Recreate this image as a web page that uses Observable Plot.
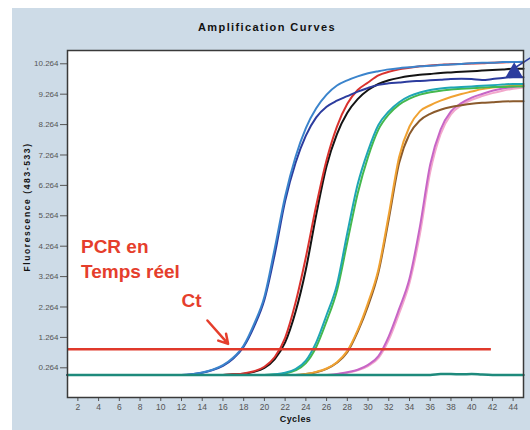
<!DOCTYPE html>
<html>
<head>
<meta charset="utf-8">
<script src="https://cdn.jsdelivr.net/npm/d3@7"></script>
<script src="https://cdn.jsdelivr.net/npm/@observablehq/plot@0.6"></script>
<style>
  html, body { margin: 0; padding: 0; background: #ffffff; width: 530px; height: 430px; overflow: hidden; }
  #panel { position: absolute; left: 12px; top: 8px; width: 518px; height: 422px; background: #cddbe7; }
  #title { position: absolute; left: -12px; width: 534px; top: 13px; text-align: center;
           font: bold 11px "Liberation Sans", Arial, sans-serif; letter-spacing: 1.4px; color: #111; }
  #chart { position: absolute; left: 0; top: 34px; }
</style>
</head>
<body>
<div id="panel">
  <div id="title">Amplification Curves</div>
  <div id="chart"></div>
</div>
<script>
// ---- data ----
const cycles = [1,2,3,4,5,6,7,8,9,10,11,12,13,14,15,16,17,18,19,20,21,22,23,24,25,26,27,28,29,30,31,32,33,34,35,36,37,38,39,40,41,42,43,44,45];

const lightBlue = [0.03,0.03,0.03,0.03,0.03,0.03,0.03,0.03,0.03,0.03,0.03,0.03,0.05,0.11,0.2,0.35,0.6,1.0,1.7,2.6,4.2,5.9,7.2,8.15,8.8,9.25,9.55,9.72,9.85,9.95,10.02,10.08,10.12,10.15,10.18,10.2,10.22,10.24,10.26,10.28,10.3,10.3,10.32,10.32,10.33];
const navy = [0.03,0.03,0.03,0.03,0.03,0.03,0.03,0.03,0.03,0.03,0.03,0.03,0.05,0.1,0.19,0.33,0.57,0.96,1.62,2.5,4.0,5.75,7.0,7.9,8.5,8.85,9.05,9.2,9.35,9.47,9.57,9.62,9.65,9.68,9.7,9.72,9.74,9.76,9.77,9.76,9.73,9.76,9.8,9.82,9.82];
const red = [0.03,0.03,0.03,0.03,0.03,0.03,0.03,0.03,0.03,0.03,0.03,0.03,0.03,0.03,0.03,0.03,0.05,0.08,0.15,0.3,0.62,1.25,2.4,3.9,5.6,7.1,8.2,8.95,9.4,9.65,9.88,10.0,10.08,10.13,10.18,10.21,10.23,10.25,10.26,10.27,10.28,10.3,10.31,10.32,10.32];
const black = [0.03,0.03,0.03,0.03,0.03,0.03,0.03,0.03,0.03,0.03,0.03,0.03,0.03,0.03,0.03,0.03,0.05,0.07,0.13,0.26,0.55,1.1,2.1,3.5,5.3,6.9,7.95,8.65,9.1,9.4,9.6,9.72,9.8,9.86,9.9,9.93,9.96,9.98,10.0,10.02,10.04,10.06,10.08,10.1,10.1];
const teal = [0.03,0.03,0.03,0.03,0.03,0.03,0.03,0.03,0.03,0.03,0.03,0.03,0.03,0.03,0.03,0.03,0.03,0.03,0.03,0.03,0.05,0.1,0.22,0.5,1.1,2.0,3.0,4.7,6.3,7.4,8.25,8.7,9.0,9.2,9.32,9.4,9.45,9.48,9.5,9.52,9.54,9.56,9.58,9.6,9.6];
const green = [0.03,0.03,0.03,0.03,0.03,0.03,0.03,0.03,0.03,0.03,0.03,0.03,0.03,0.03,0.03,0.03,0.03,0.03,0.03,0.03,0.04,0.08,0.18,0.42,0.95,1.8,2.8,4.4,6.0,7.2,8.1,8.6,8.92,9.12,9.25,9.33,9.38,9.42,9.44,9.46,9.48,9.5,9.5,9.52,9.52];
const orange = [0.03,0.03,0.03,0.03,0.03,0.03,0.03,0.03,0.03,0.03,0.03,0.03,0.03,0.03,0.03,0.03,0.03,0.03,0.03,0.03,0.03,0.03,0.03,0.06,0.13,0.24,0.45,0.82,1.5,2.4,3.5,5.3,7.2,8.2,8.7,8.9,9.05,9.17,9.27,9.35,9.43,9.48,9.52,9.54,9.55];
const brown = [0.03,0.03,0.03,0.03,0.03,0.03,0.03,0.03,0.03,0.03,0.03,0.03,0.03,0.03,0.03,0.03,0.03,0.03,0.03,0.03,0.03,0.03,0.03,0.06,0.12,0.23,0.43,0.78,1.45,2.3,3.4,5.15,7.0,7.95,8.4,8.62,8.75,8.84,8.9,8.95,8.98,9.0,9.02,9.03,9.03];
const magenta = [0.03,0.03,0.03,0.03,0.03,0.03,0.03,0.03,0.03,0.03,0.03,0.03,0.03,0.03,0.03,0.03,0.03,0.03,0.03,0.03,0.03,0.03,0.03,0.03,0.03,0.03,0.06,0.12,0.2,0.36,0.65,1.3,2.2,3.2,4.9,6.95,8.1,8.7,8.97,9.15,9.27,9.38,9.45,9.5,9.55];
const pink = [0.03,0.03,0.03,0.03,0.03,0.03,0.03,0.03,0.03,0.03,0.03,0.03,0.03,0.03,0.03,0.03,0.03,0.03,0.03,0.03,0.03,0.03,0.03,0.03,0.03,0.03,0.05,0.1,0.18,0.32,0.58,1.18,2.05,3.05,4.65,6.7,7.95,8.6,8.9,9.08,9.2,9.3,9.38,9.44,9.48];
const negative = [0.03,0.03,0.03,0.03,0.03,0.03,0.03,0.03,0.03,0.03,0.03,0.03,0.03,0.03,0.03,0.03,0.03,0.03,0.03,0.03,0.03,0.03,0.03,0.03,0.03,0.03,0.03,0.03,0.03,0.03,0.03,0.03,0.03,0.03,0.03,0.03,0.06,0.06,0.05,0.06,0.04,0.03,0.03,0.03,0.03];

const seriesNames = ["pink","magenta","brown","orange","green","teal","black","red","navy","lightBlue","negative"];
const seriesValues = {pink, magenta, brown, orange, green, teal, black, red, navy, lightBlue, negative};

const yTicks = [0.264,1.264,2.264,3.264,4.264,5.264,6.264,7.264,8.264,9.264,10.264];
const xTicks = [2,4,6,8,10,12,14,16,18,20,22,24,26,28,30,32,34,36,38,40,42,44];

const thresholdValue = 0.87;
const thresholdStart = 1;
const thresholdEnd = 41.9;

const annotations = [
  {label: "PCR en", cycle: 2.3, value: 4.24},
  {label: "Temps réel", cycle: 2.3, value: 3.41},
  {label: "Ct", cycle: 12.0, value: 2.45}
];
const ctArrow = [{x1: 14.5, y1: 1.82, x2: 16.5, y2: 1.05}];
const marker = [{cycle: 44.1, value: 9.98}];
const markerLine = [{x1: 44.25, y1: 10.15, x2: 45.7, y2: 10.47}];

// ---- styles ----
const palette = {
  pink: "#f2a7cb", magenta: "#c765c6", brown: "#8a5a2c", orange: "#f0a232",
  green: "#45b84e", teal: "#1fa6b4", black: "#141414", red: "#d9322e",
  navy: "#2c3c9e", lightBlue: "#3b84cc", negative: "#1e8a7c"
};
const annotRed = "#e53e2c";

const rows = seriesNames.flatMap(name =>
  seriesValues[name].map((v, i) => ({cycle: cycles[i], value: v, series: name})));

const chart = Plot.plot({
  width: 518,
  height: 388,
  marginLeft: 55,
  marginRight: 7,
  marginTop: 8,
  marginBottom: 33,
  style: {background: "transparent", fontFamily: "'Liberation Sans', Arial, sans-serif", overflow: "visible"},
  x: {domain: [1, 45]},
  y: {domain: [-0.713, 10.701]},
  color: {type: "identity"},
  marks: [
    Plot.frame({fill: "white"}),
    Plot.axisY({ticks: yTicks, tickFormat: d => d.toFixed(3), tickSize: 7, tickPadding: 2, fontSize: 8, color: "#555", label: null}),
    Plot.axisX({ticks: xTicks, tickSize: 4, tickPadding: 2, fontSize: 8.5, color: "#555", label: null}),
    Plot.line(rows, {x: "cycle", y: "value", z: "series", stroke: d => palette[d.series],
      strokeWidth: d => d.series === "negative" ? 2.5 : 2, curve: "monotone-x"}),
    Plot.ruleY([thresholdValue], {y: d => d, x1: thresholdStart, x2: thresholdEnd, stroke: "#e0392b", strokeWidth: 2.5}),
    Plot.arrow(ctArrow, {x1: "x1", y1: "y1", x2: "x2", y2: "y2", stroke: annotRed, strokeWidth: 2.5, headLength: 10}),
    Plot.text(annotations, {x: "cycle", y: "value", text: "label", textAnchor: "start", fill: annotRed,
      fontSize: 19, fontWeight: "bold"}),
    Plot.link(markerLine, {x1: "x1", y1: "y1", x2: "x2", y2: "y2", stroke: palette.navy, strokeWidth: 1.5}),
    Plot.dot(marker, {x: "cycle", y: "value", symbol: "triangle", r: 6.5, fill: palette.navy}),
    Plot.frame({stroke: "#3a3a3a", strokeWidth: 1.5}),
    Plot.text(["Cycles"], {text: d => d, frameAnchor: "bottom", dy: 24.5, fontSize: 9, fontWeight: "bold", fill: "#111"}),
    Plot.text(["Fluorescence (483-533)"], {text: d => d, frameAnchor: "left", textAnchor: "middle", rotate: -90, dx: -40, dy: -17,
      fontSize: 8.5, fontWeight: "bold", fill: "#111"})
  ]
});
d3.select(chart).selectAll("text").filter(function() {
  return this.textContent === "Fluorescence (483-533)";
}).style("letter-spacing", "1.6px");
d3.select(chart).selectAll("text").filter(function() { return this.textContent === "Cycles"; })
  .style("letter-spacing", "0.4px");
document.getElementById("chart").appendChild(chart);
</script>
</body>
</html>
